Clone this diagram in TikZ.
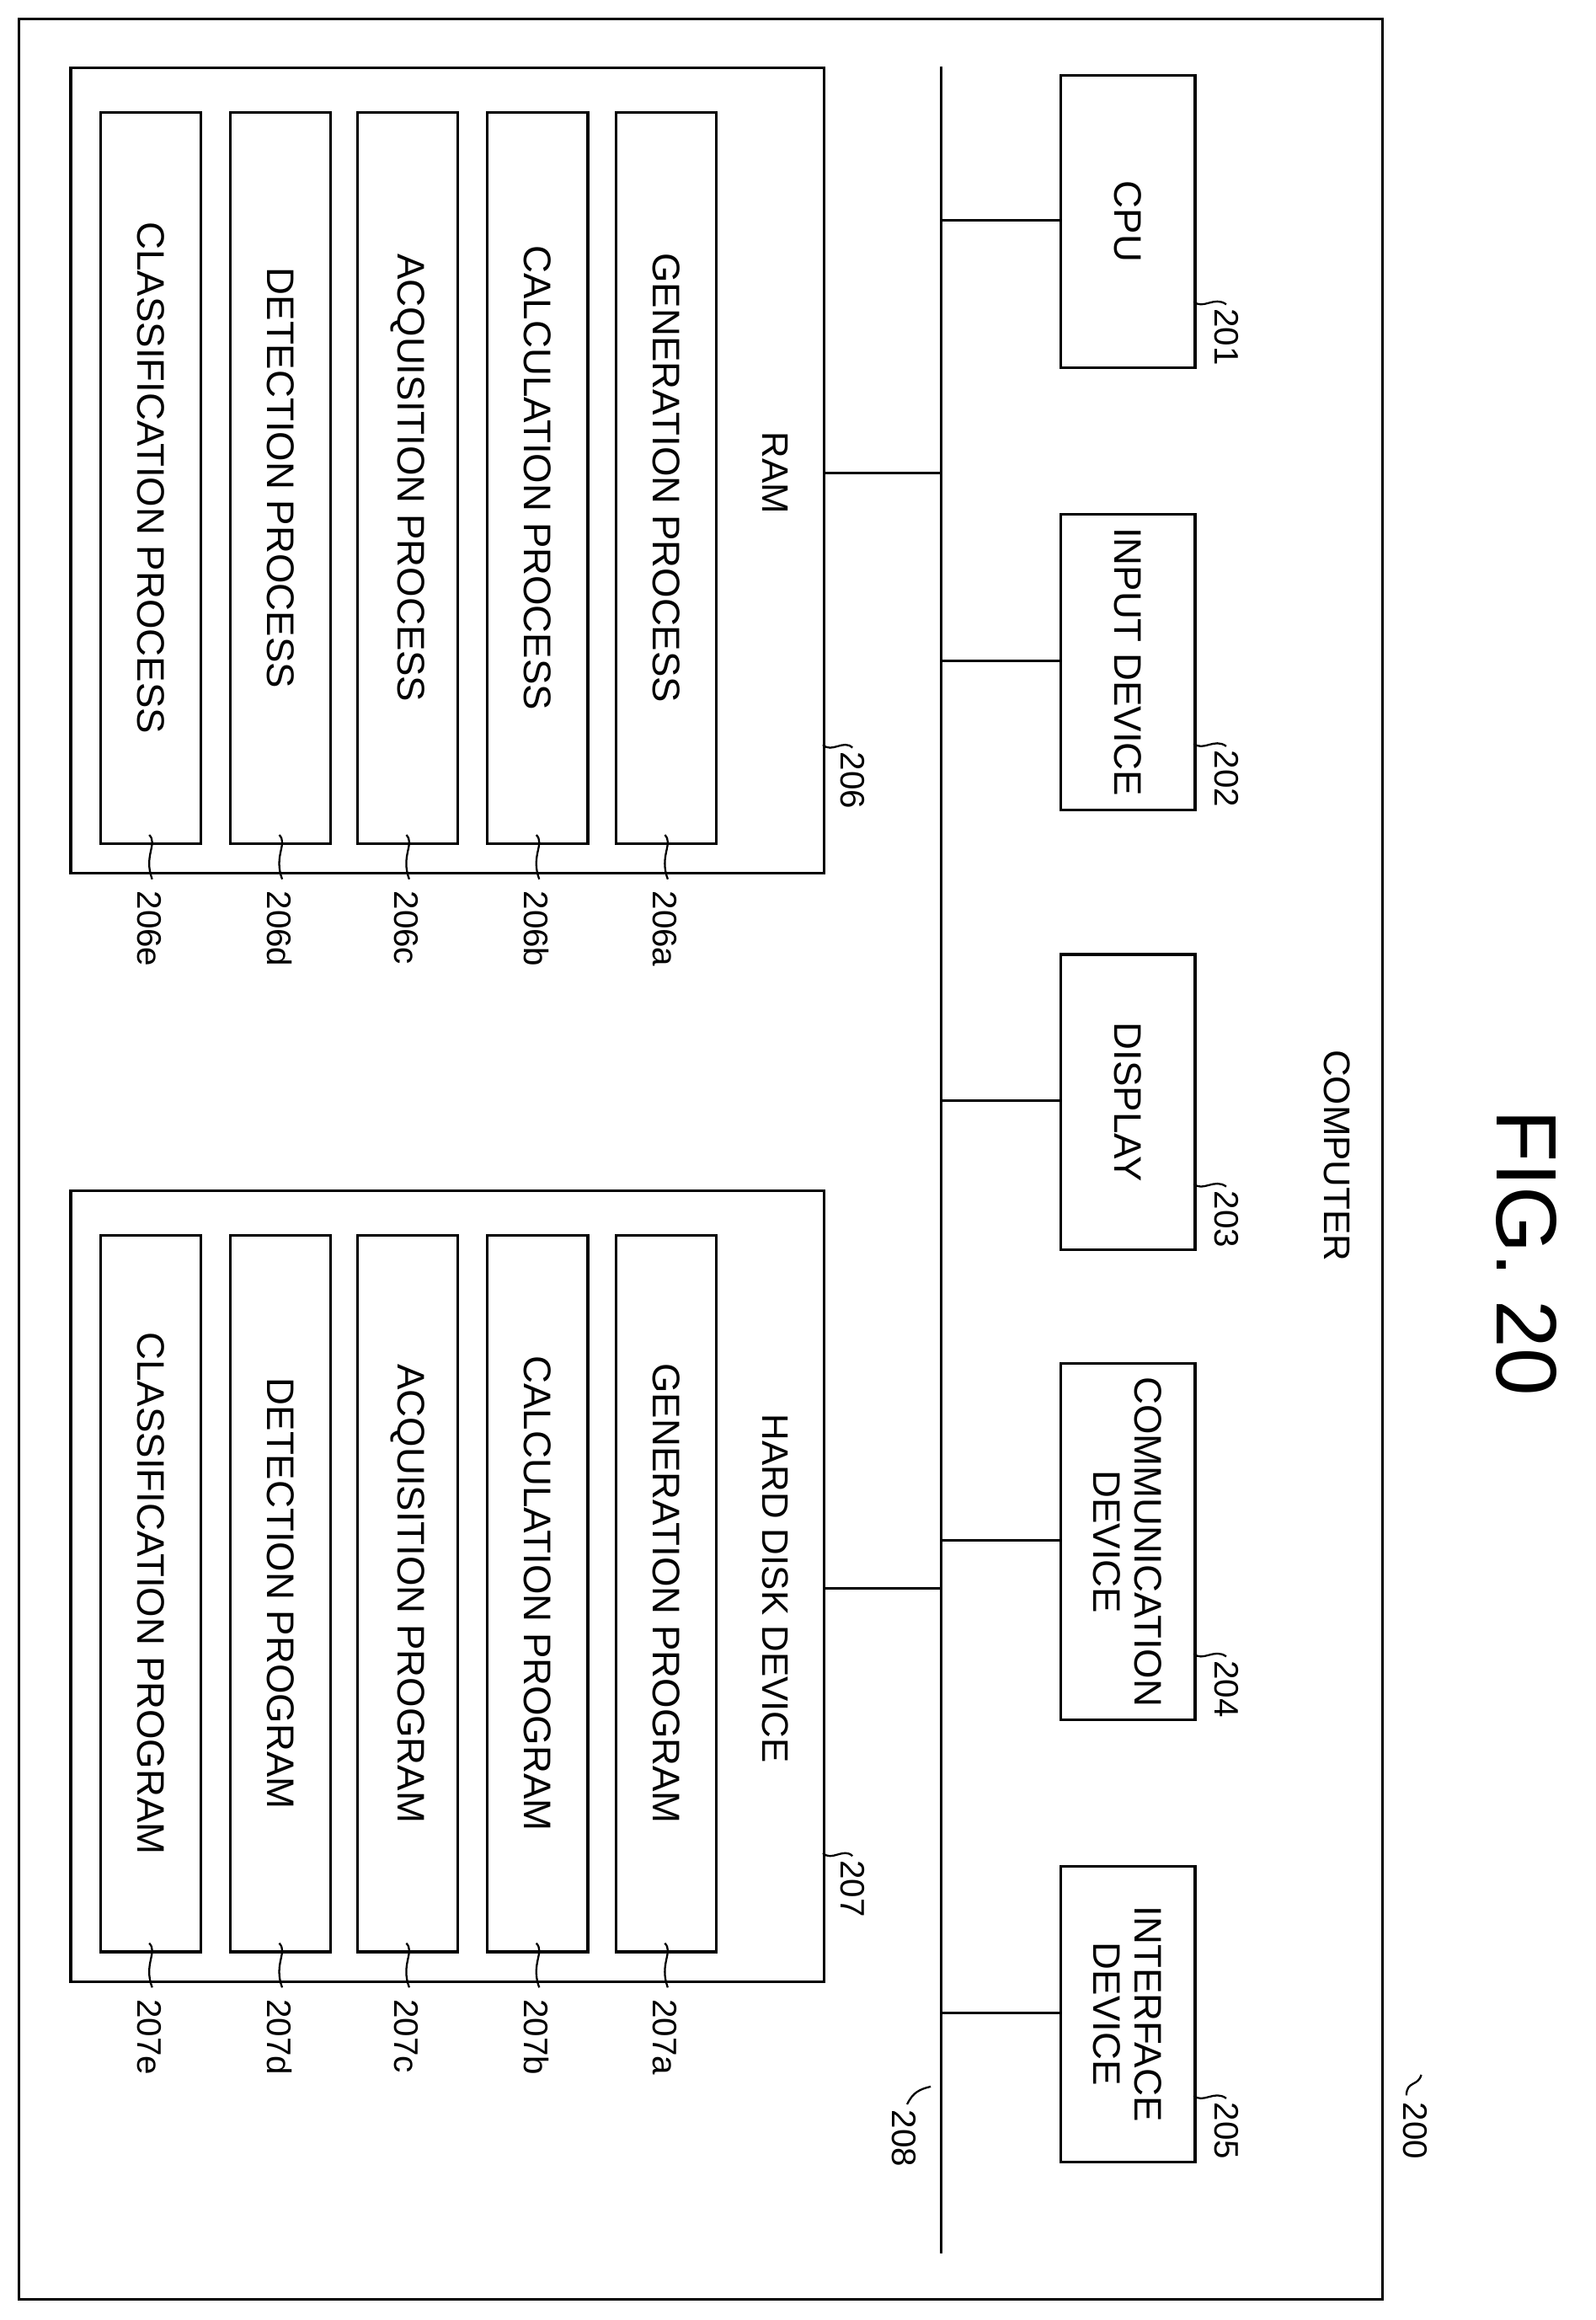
\documentclass[tikz,border=0pt]{standalone}
\usepackage{fontspec}
\setmainfont{Liberation Sans}
\begin{document}
\begin{tikzpicture}[x=1pt,y=-1pt,line width=1.8pt,
  box/.style={draw},
  txt/.style={rotate=-90,font=\fontsize{26}{28}\selectfont,align=center,inner sep=0},
  lbl/.style={rotate=-90,font=\fontsize{23}{26}\selectfont,inner sep=0},
  sq/.style={line width=1.3pt}]
\useasboundingbox (0,0) rectangle (1080,1570);
\node[box,minimum width=923,minimum height=1543,anchor=north west] (outer) at (12,12) {};
\node[lbl] (l200) at (958,1442) {200};
\draw[sq] (952,1418) .. controls (952,1408) and (960,1412) .. (962,1404);
\node[rotate=-90,font=\fontsize{58}{62}\selectfont,inner sep=0] (fig) at (1033,848) {FIG. 20};
\node[lbl,font=\fontsize{25}{28}\selectfont] (comp) at (905,782) {COMPUTER};
\coordinate (bt) at (637,45); \coordinate (bb) at (637,1525);
\draw (bt) -- (bb);
\node[lbl] (l208) at (612,1447) {208};
\draw[sq] (630,1412) .. controls (622,1414) and (618,1416) .. (614,1424);
% devices
\foreach \n/\ya/\yb/\t/\l in {cpu/50/248/CPU/201,inp/347/547/INPUT DEVICE/202,dis/645/845/DISPLAY/203,com/922/1163/COMMUNICATION\\DEVICE/204,int/1262/1462/INTERFACE\\DEVICE/205}{
  \node[box,minimum width=91,minimum height=\yb-\ya,anchor=north west] (\n) at (717,\ya) {};
  \node[txt] at (\n.center) {\t};
  \coordinate (\n c) at (637,{(\ya+\yb)/2});
  \draw (\n c) -- (\n.west |- \n c);
  \node[lbl,anchor=west] (\n l) at (830,\yb-40) {\l};
  \draw[sq] (808,\yb-44) .. controls (814,\yb-38) and (822,\yb-48) .. (830,\yb-42);
}
% RAM and HDD
\foreach \n/\ya/\yb/\t/\l/\yc/\w in {ram/45/590/RAM/206/320/PROCESS,hdd/805/1340/HARD DISK DEVICE/207/1075/PROGRAM}{
  \node[box,minimum width=510,minimum height=\yb-\ya,anchor=north west] (\n) at (47,\ya) {};
  \node[lbl,font=\fontsize{25}{28}\selectfont] at (525,\yc) {\t};
  \coordinate (\n c) at (637,\yc);
  \draw (\n c) -- (\n.east |- \n c);
  \node[lbl,anchor=west] (\n l) at (577,\yb-82) {\l};
  \draw[sq] (557,\yb-86) .. controls (563,\yb-80) and (571,\yb-90) .. (577,\yb-84);
  \foreach \k/\x/\s in {e/67/CLASSIFICATION,d/155/DETECTION,c/241/ACQUISITION,b/329/CALCULATION,a/416/GENERATION}{
    \node[box,minimum width=68,minimum height=\yb-\ya-50,anchor=north west] (\n\k) at (\x,\ya+30) {};
    \node[txt] at (\n\k.center) {\s\ \w};
    \node[lbl,anchor=west] (\n\k l) at (\x+34,\yb+12) {\l\k};
    \draw[sq] (\x+34,\yb-25) .. controls (\x+40,\yb-19) and (\x+30,\yb-11) .. (\x+36,\yb+5);
  }
}
\end{tikzpicture}
\end{document}
